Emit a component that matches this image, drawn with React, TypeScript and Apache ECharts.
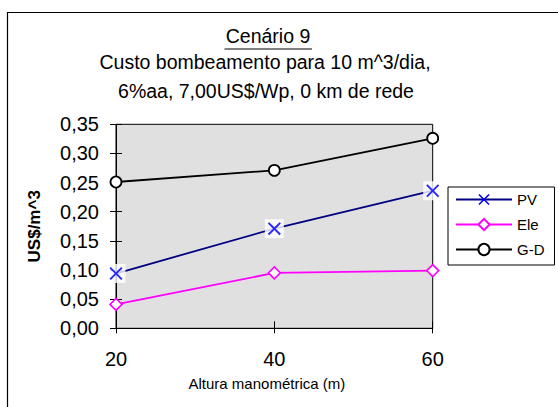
import React, { useEffect, useRef } from "react";
import * as echarts from "echarts";

const alturas = [20, 40, 60];
const pvValues = [0.094, 0.171, 0.236];
const eleValues = [0.041, 0.095, 0.099];
const gdValues = [0.251, 0.271, 0.326];
const seriesNames = ["PV", "Ele", "G-D"];
const titleText = "Cenário 9";
const subtitleLines = ["Custo bombeamento para 10 m^3/dia,", "6%aa, 7,00US$/Wp, 0 km de rede"];
const xAxisName = "Altura manométrica (m)";
const yAxisName = "US$/m^3";

const FONT = '"Liberation Sans", Arial, sans-serif';
const X_SYMBOL =
  "path://M0,10 L10,0 L50,40 L90,0 L100,10 L60,50 L100,90 L90,100 L50,60 L10,100 L0,90 L40,50 Z";

const pair = (vals: number[]) => alturas.map((a, i) => [a, vals[i]]);

export default function App() {
  const ref = useRef<HTMLDivElement>(null);
  useEffect(() => {
    if (!ref.current) return;
    const chart = echarts.init(ref.current, null, { renderer: "svg" });
    const grid = { left: 116, top: 124.3, right: 125.3, bottom: 78.7 };
    chart.setOption({
      animation: false,
      backgroundColor: "#fff",
      textStyle: { fontFamily: FONT },
      graphic: [
        {
          type: "rect",
          shape: { x: 7.5, y: 12.5, width: 700, height: 500 },
          style: { fill: "none", stroke: "#000", lineWidth: 1.2 },
          silent: true,
          z: -10,
        },
        {
          type: "text",
          x: 268,
          y: 36,
          style: {
            text: titleText,
            font: `19.5px ${FONT}`,
            fill: "#000",
            textAlign: "center",
            textVerticalAlign: "middle",
          },
        },
        {
          type: "line",
          shape: { x1: 224.5, y1: 49, x2: 312, y2: 49 },
          style: { stroke: "#000", lineWidth: 1 },
        },
        {
          type: "text",
          x: 265,
          y: 62,
          style: {
            text: subtitleLines[0],
            font: `19.5px ${FONT}`,
            fill: "#000",
            textAlign: "center",
            textVerticalAlign: "middle",
          },
        },
        {
          type: "text",
          x: 266,
          y: 90.5,
          style: {
            text: subtitleLines[1],
            font: `19.5px ${FONT}`,
            fill: "#000",
            textAlign: "center",
            textVerticalAlign: "middle",
          },
        },
      ],
      grid: {
        ...grid,
        show: true,
        backgroundColor: "#E0E0E0",
        borderColor: "#000",
        borderWidth: 1,
      },
      legend: {
        data: seriesNames,
        orient: "vertical",
        left: 448,
        top: 187,
        width: 104,
        backgroundColor: "#fff",
        borderColor: "#000",
        borderWidth: 1,
        padding: [5, 10, 8, 7],
        itemWidth: 56,
        itemHeight: 14,
        itemGap: 10,
        textStyle: { fontSize: 15, fontFamily: FONT, color: "#000" },
      },
      xAxis: [
        {
          type: "value",
          min: 20,
          max: 60,
          interval: 20,
          name: xAxisName,
          nameLocation: "middle",
          nameGap: 48,
          nameTextStyle: { fontSize: 15, fontFamily: FONT, color: "#000", padding: [0, 15, 0, 0] },
          axisLine: { show: true, lineStyle: { color: "#000", width: 1 } },
          axisTick: { show: true, length: 5, lineStyle: { color: "#000" } },
          axisLabel: { fontSize: 20, fontFamily: FONT, color: "#000", margin: 21 },
          splitLine: { show: false },
        },
        {
          type: "value",
          min: 20,
          max: 60,
          interval: 20,
          position: "bottom",
          axisLine: { show: false },
          axisTick: { show: true, inside: true, length: 7, lineStyle: { color: "#000" } },
          axisLabel: { show: false },
          splitLine: { show: false },
        },
      ],
      yAxis: [
        {
          type: "value",
          min: 0,
          max: 0.35,
          interval: 0.05,
          name: yAxisName,
          nameLocation: "middle",
          nameGap: 73,
          nameTextStyle: { fontSize: 17, fontWeight: "bold", fontFamily: FONT, color: "#000" },
          axisLine: { show: true, lineStyle: { color: "#000", width: 1 } },
          axisTick: { show: true, length: 6, lineStyle: { color: "#000" } },
          axisLabel: {
            fontSize: 20,
            fontFamily: FONT,
            color: "#000",
            margin: 17,
            formatter: (v: number) => v.toFixed(2).replace(".", ","),
          },
          splitLine: { show: false },
        },
        {
          type: "value",
          min: 0,
          max: 0.35,
          interval: 0.05,
          position: "left",
          axisLine: { show: false },
          axisTick: { show: true, inside: true, length: 6, lineStyle: { color: "#000" } },
          axisLabel: { show: false },
          splitLine: { show: false },
        },
      ],
      series: [
        {
          name: seriesNames[0],
          type: "line",
          data: pair(pvValues),
          symbol: X_SYMBOL,
          symbolSize: 13,
          itemStyle: { color: "#0000FF" },
          lineStyle: { color: "#000080", width: 1.8 },
          z: 2,
        },
        {
          name: "pv-bg",
          type: "scatter",
          data: pair(pvValues),
          symbol: "rect",
          symbolSize: 19,
          itemStyle: { color: "#fff" },
          silent: true,
          z: 3,
        },
        {
          name: "pv-mark",
          type: "scatter",
          data: pair(pvValues),
          symbol: X_SYMBOL,
          symbolSize: 13,
          itemStyle: { color: "#0000FF" },
          silent: true,
          z: 4,
        },
        {
          name: seriesNames[1],
          type: "line",
          data: pair(eleValues),
          symbol: "diamond",
          symbolSize: 12,
          itemStyle: { color: "#fff", borderColor: "#FF00FF", borderWidth: 1.6 },
          lineStyle: { color: "#FF00FF", width: 1.8 },
          z: 2,
        },
        {
          name: seriesNames[2],
          type: "line",
          data: pair(gdValues),
          symbol: "circle",
          symbolSize: 11,
          itemStyle: { color: "#fff", borderColor: "#000", borderWidth: 1.8 },
          lineStyle: { color: "#000", width: 1.8 },
          z: 2,
        },
      ],
    });
    return () => chart.dispose();
  }, []);
  return (
    <div
      ref={ref}
      style={{ position: "absolute", left: 0, top: 0, width: 558, height: 407 }}
    />
  );
}
